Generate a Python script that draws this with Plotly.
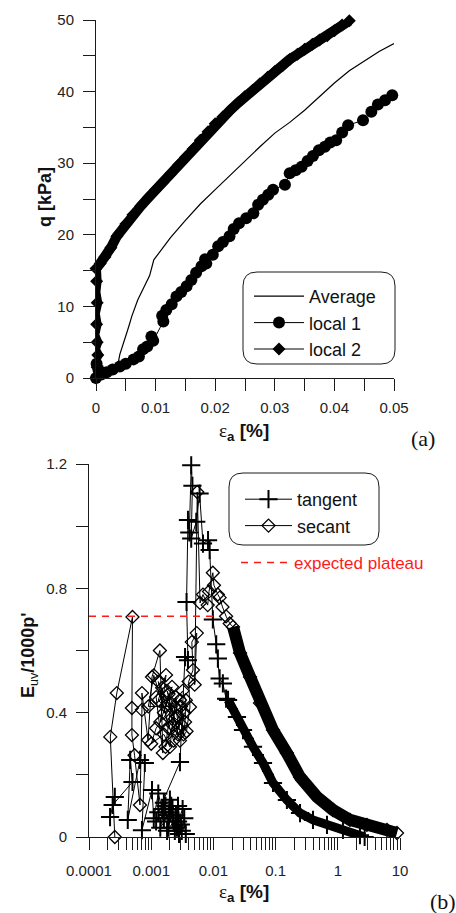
import plotly.graph_objects as go

W, H = 456, 913

# ---------------- panel (a) data ----------------
avg_x = [0.0033, 0.0037, 0.004, 0.0045, 0.005, 0.0055, 0.006, 0.007, 0.008, 0.009, 0.0097,
         0.011, 0.0125, 0.015, 0.0175, 0.02, 0.0225, 0.025, 0.0275, 0.03, 0.0325, 0.035,
         0.0375, 0.04, 0.0425, 0.045, 0.0475, 0.05]
avg_q = [1.0, 2.0, 3.3, 4.5, 5.8, 7.2, 8.6, 10.9, 12.6, 14.3, 16.5,
         17.9, 19.6, 22.0, 24.3, 26.3, 28.3, 30.4, 32.3, 34.2, 35.7, 37.4,
         39.3, 41.2, 42.9, 44.2, 45.6, 46.7]

loc1_x = [0.0, -0.0003, 0.0004, 0.0001, 0.0009, 0.0018, 0.0028, 0.004, 0.005, 0.0063, 0.0072,
          0.0079, 0.0086, 0.0093, 0.0096, 0.0113, 0.0111, 0.0118, 0.0127, 0.0135, 0.0143,
          0.0152, 0.016, 0.0168, 0.0177, 0.0185, 0.0183, 0.0196, 0.0205, 0.0213, 0.0224,
          0.0231, 0.024, 0.0252, 0.0264, 0.0272, 0.028, 0.0289, 0.0297, 0.0317, 0.0325,
          0.0335, 0.0345, 0.0355, 0.0364, 0.0374, 0.0384, 0.0393, 0.0403, 0.0413, 0.0423,
          0.0448, 0.0462, 0.0473, 0.0485, 0.0497]
loc1_q = [0.0, 0.6, 1.2, 2.0, 0.5, 0.8, 1.2, 1.6, 2.0, 2.6, 3.0,
          4.0, 4.4, 5.8, 5.2, 7.9, 8.7, 9.5, 10.3, 11.4, 12.0,
          12.8, 13.7, 14.7, 15.6, 16.0, 16.6, 17.2, 18.4, 19.0, 19.8,
          20.8, 21.6, 22.3, 23.0, 24.2, 24.9, 25.6, 26.3, 27.0, 28.6,
          29.0, 29.5, 30.3, 31.0, 31.8, 32.3, 32.9, 33.2, 34.3, 35.3,
          36.0, 37.2, 38.2, 38.8, 39.5]

loc2_x = [0.0, -0.0003, 0.0002, -0.0004, 0.0003, -0.0002, 0.0002, -0.0003, 0.0001, -0.0002,
          0.0002, -0.0001, 0.0001, 0.0, 0.0007, 0.0015, 0.0025, 0.0035, 0.005, 0.0062,
          0.0075, 0.0088, 0.01, 0.0112, 0.0125, 0.0138, 0.015, 0.0163, 0.0175, 0.0188,
          0.02, 0.0213, 0.0225, 0.0238, 0.025, 0.0263, 0.0275, 0.0288, 0.03, 0.0313,
          0.0325, 0.0338, 0.035, 0.0363, 0.0375, 0.0388, 0.04, 0.0413, 0.0425]
loc2_q = [0.0, 0.8, 1.5, 2.3, 3.2, 4.0, 5.0, 6.0, 7.5, 9.0,
          10.5, 12.0, 13.5, 15.3, 16.0, 16.9, 18.2, 19.8, 21.5, 22.8,
          24.0, 25.2, 26.3, 27.3, 28.5, 29.7, 30.8, 32.0, 33.2, 34.4,
          35.5, 36.5, 37.4, 38.4, 39.3, 40.2, 41.1, 42.0, 42.8, 43.6,
          44.5, 45.2, 45.9, 46.6, 47.2, 47.8, 48.5, 49.3, 49.9]

# ---------------- panel (b) data ----------------
tan_x_early = [0.000218, 0.00026, 0.00024, 0.0005, 0.00046, 0.00042, 0.00066, 0.00079, 0.00071,
               0.00103, 0.0011, 0.0013, 0.0015, 0.0012, 0.0017, 0.0014, 0.0019, 0.0016, 0.0021,
               0.0018, 0.0023, 0.002, 0.0026, 0.0022, 0.0028, 0.0025, 0.003, 0.0027, 0.0032,
               0.0016, 0.0019, 0.0022, 0.0024, 0.0027, 0.0031, 0.0034, 0.0036, 0.002, 0.0013,
               0.0029, 0.0035, 0.0039, 0.0037, 0.0039, 0.0041, 0.0044, 0.0046, 0.0044, 0.0053,
               0.006, 0.0068, 0.0082, 0.0087, 0.0098, 0.0111, 0.0118, 0.0126, 0.0142, 0.016]
tan_e_early = [0.064, 0.129, 0.103, 0.177, 0.248, 0.055, 0.248, 0.238, 0.022,
               0.151, 0.06, 0.14, 0.09, 0.05, 0.1, 0.03, 0.07, 0.06, 0.1,
               0.02, 0.05, 0.08, 0.03, 0.06, 0.01, 0.07, 0.04, 0.05, 0.09,
               0.11, 0.03, 0.09, 0.02, 0.10, 0.02, 0.06, 0.01, 0.12, 0.08,
               0.241, 0.579, 0.569, 0.756, 1.02, 0.98, 1.196, 1.13, 0.96, 1.014,
               1.105, 0.944, 0.955, 0.923, 0.70, 0.62, 0.574, 0.51, 0.494, 0.445]
tan_x_tail = [0.0172, 0.0239, 0.0299, 0.0433, 0.0627, 0.0908, 0.152, 0.247, 0.399, 0.67,
              1.21, 2.27, 2.7]
tan_e_tail = [0.441, 0.386, 0.344, 0.29, 0.238, 0.174, 0.119, 0.077, 0.055, 0.039,
              0.023, 0.006, 0.0]

sec_x_early = [0.00026, 0.00022, 0.00028, 0.0005, 0.00049, 0.00049, 0.00054, 0.00066, 0.00071,
               0.00071, 0.00089, 0.00103, 0.00138, 0.00154, 0.0012, 0.00173, 0.0014, 0.00216,
               0.0016, 0.0029, 0.0019, 0.0013, 0.0024, 0.0017, 0.0021, 0.0027, 0.0018, 0.0031,
               0.0013, 0.0015, 0.0017, 0.0019, 0.0022, 0.0025, 0.0026, 0.0028, 0.003, 0.0033,
               0.0035, 0.0036, 0.0032, 0.0012, 0.001, 0.0016, 0.002, 0.0024, 0.0009, 0.0011,
               0.0023, 0.0034, 0.0029, 0.0037, 0.0042, 0.004, 0.0047, 0.0045, 0.0054, 0.005,
               0.0055, 0.0061, 0.0068, 0.0081, 0.0085, 0.0098, 0.0102, 0.0118, 0.0126, 0.014,
               0.016, 0.0183]
sec_e_early = [0.0, 0.322, 0.463, 0.708, 0.415, 0.328, 0.263, 0.103, 0.409,
               0.463, 0.312, 0.515, 0.60, 0.27, 0.45, 0.521, 0.37, 0.483,
               0.40, 0.441, 0.35, 0.50, 0.38, 0.29, 0.43, 0.33, 0.47, 0.36,
               0.44, 0.48, 0.42, 0.46, 0.36, 0.45, 0.39, 0.35, 0.42, 0.33,
               0.37, 0.44, 0.47, 0.35, 0.30, 0.33, 0.29, 0.42, 0.42, 0.52,
               0.31, 0.40, 0.31, 0.34, 0.418, 0.50, 0.537, 0.627, 0.656, 0.49,
               1.11, 0.753, 0.78, 0.746, 0.79, 0.85, 0.81, 0.78, 0.77, 0.74,
               0.71, 0.687]
sec_x_tail = [0.0207, 0.0268, 0.0388, 0.0561, 0.0908, 0.152, 0.247, 0.463, 0.837, 1.57,
              2.94, 6.18, 8.95]
sec_e_tail = [0.676, 0.592, 0.515, 0.431, 0.344, 0.27, 0.193, 0.129, 0.087, 0.055,
              0.039, 0.023, 0.013]

plateau_x = [0.0001, 0.01]
plateau_e = [0.71, 0.71]

top_xticks = [0, 0.01, 0.02, 0.03, 0.04, 0.05]
top_xtick_labels = ["0", "0.01", "0.02", "0.03", "0.04", "0.05"]
top_yticks = [0, 10, 20, 30, 40, 50]
bot_xticks = [0.0001, 0.001, 0.01, 0.1, 1, 10]
bot_xtick_labels = ["0.0001", "0.001", "0.01", "0.1", "1", "10"]
bot_yticks = [0, 0.4, 0.8, 1.2]
bot_ytick_labels = ["0", "0.4", "0.8", "1.2"]


def fx(p):
    return p / W


def fy(p):
    return 1 - p / H


INK = "#1a1a1a"
FONT = "Liberation Sans"

fig = go.Figure()

# panel (a)
fig.add_trace(go.Scatter(x=loc2_x, y=loc2_q, mode="lines", line=dict(color="black", width=10),
                         showlegend=False, hoverinfo="skip", xaxis="x", yaxis="y"))
fig.add_trace(go.Scatter(x=avg_x, y=avg_q, mode="lines", name="Average",
                         line=dict(color="black", width=1.2), xaxis="x", yaxis="y",
                         legend="legend"))
fig.add_trace(go.Scatter(x=loc1_x, y=loc1_q, mode="lines+markers", name="local 1",
                         line=dict(color="black", width=1),
                         marker=dict(symbol="circle", size=12, color="black"),
                         cliponaxis=False, xaxis="x", yaxis="y", legend="legend"))
fig.add_trace(go.Scatter(x=loc2_x, y=loc2_q, mode="lines+markers", name="local 2",
                         line=dict(color="black", width=1),
                         marker=dict(symbol="diamond", size=10, color="black"),
                         cliponaxis=False, xaxis="x", yaxis="y", legend="legend"))

# panel (b)
fig.add_trace(go.Scatter(x=tan_x_tail, y=tan_e_tail, mode="lines", line=dict(color="black", width=9),
                         showlegend=False, hoverinfo="skip", xaxis="x2", yaxis="y2"))
fig.add_trace(go.Scatter(x=sec_x_tail, y=sec_e_tail, mode="lines", line=dict(color="black", width=12),
                         showlegend=False, hoverinfo="skip", xaxis="x2", yaxis="y2"))
fig.add_trace(go.Scatter(x=tan_x_early + tan_x_tail, y=tan_e_early + tan_e_tail,
                         mode="lines+markers", name="tangent",
                         line=dict(color="black", width=1),
                         marker=dict(symbol="cross-thin", size=13, color="black",
                                     line=dict(color="black", width=2)),
                         cliponaxis=False, xaxis="x2", yaxis="y2", legend="legend2"))
fig.add_trace(go.Scatter(x=sec_x_early + sec_x_tail, y=sec_e_early + sec_e_tail,
                         mode="lines+markers", name="secant",
                         line=dict(color="black", width=1),
                         marker=dict(symbol="diamond-open", size=10, color="black",
                                     line=dict(color="black", width=1.3)),
                         cliponaxis=False, xaxis="x2", yaxis="y2", legend="legend2"))
fig.add_trace(go.Scatter(x=plateau_x, y=plateau_e, mode="lines", name="expected plateau",
                         line=dict(color="#ff1a1a", width=1.5, dash="7px,6px"),
                         xaxis="x2", yaxis="y2", legend="legend3"))

tickfont = dict(family=FONT, size=15, color="#222")
axis_common = dict(showline=True, linecolor=INK, linewidth=1, ticks="outside", ticklen=12,
                   tickwidth=1, tickcolor=INK, showgrid=False, zeroline=False,
                   tickfont=tickfont, automargin=False, mirror=False)

rounded = lambda x0, y0, x1, y1, r: (
    f"M {fx(x0 + r)},{fy(y0)} L {fx(x1 - r)},{fy(y0)} Q {fx(x1)},{fy(y0)} {fx(x1)},{fy(y0 + r)} "
    f"L {fx(x1)},{fy(y1 - r)} Q {fx(x1)},{fy(y1)} {fx(x1 - r)},{fy(y1)} "
    f"L {fx(x0 + r)},{fy(y1)} Q {fx(x0)},{fy(y1)} {fx(x0)},{fy(y1 - r)} "
    f"L {fx(x0)},{fy(y0 + r)} Q {fx(x0)},{fy(y0)} {fx(x0 + r)},{fy(y0)} Z")

legend_font = dict(family=FONT, size=18, color="#111")

fig.update_layout(
    width=W, height=H, autosize=False,
    margin=dict(l=0, r=0, t=0, b=0, pad=0),
    paper_bgcolor="white", plot_bgcolor="white",
    xaxis=dict(domain=[fx(96), fx(394)], range=[0, 0.05], tickmode="array",
               tickvals=top_xticks, ticktext=top_xtick_labels, anchor="y",
               minor=dict(tickmode="linear", tick0=0, dtick=0.005, ticks="outside", ticklen=12,
                          tickcolor=INK, tickwidth=1),
               ticklabelstandoff=4, **axis_common),
    yaxis=dict(domain=[fy(378), fy(20)], range=[0, 50], tickmode="array",
               tickvals=top_yticks, anchor="x",
               minor=dict(tickmode="linear", tick0=0, dtick=5, ticks="outside", ticklen=12,
                          tickcolor=INK, tickwidth=1),
               ticklabelstandoff=6, **axis_common),
    xaxis2=dict(domain=[fx(89), fx(400)], type="log", range=[-4, 1], tickmode="array",
                tickvals=bot_xticks, ticktext=bot_xtick_labels, anchor="y2",
                minor=dict(dtick="D1", ticks="outside", ticklen=12, tickcolor=INK, tickwidth=1),
                ticklabelstandoff=8, **axis_common),
    yaxis2=dict(domain=[fy(837), fy(464)], range=[0, 1.2], tickmode="array",
                tickvals=bot_yticks, ticktext=bot_ytick_labels, anchor="x2",
                minor=dict(tickmode="linear", tick0=0, dtick=0.2, ticks="outside", ticklen=12,
                           tickcolor=INK, tickwidth=1),
                ticklabelstandoff=6, **axis_common),
    legend=dict(x=fx(249), y=fy(278), xanchor="left", yanchor="top", bgcolor="rgba(0,0,0,0)",
                borderwidth=0, font=legend_font, itemwidth=50, tracegroupgap=0),
    legend2=dict(x=fx(240), y=fy(481), xanchor="left", yanchor="top", bgcolor="rgba(0,0,0,0)",
                 borderwidth=0, font=legend_font, itemwidth=47),
    legend3=dict(x=fx(236), y=fy(545), xanchor="left", yanchor="top", bgcolor="rgba(0,0,0,0)",
                 borderwidth=0, font=dict(family=FONT, size=17, color="#ff1a1a"), itemwidth=48),
    shapes=[
        dict(type="path", xref="paper", yref="paper", path=rounded(243, 272, 395, 364, 14),
             line=dict(color=INK, width=1), fillcolor="rgba(0,0,0,0)", layer="above"),
        dict(type="path", xref="paper", yref="paper", path=rounded(229, 473, 379, 545, 14),
             line=dict(color=INK, width=1), fillcolor="rgba(0,0,0,0)", layer="above"),
    ],
    annotations=[
        dict(text="<b>q [kPa]</b>", x=fx(45), y=fy(197), xref="paper", yref="paper",
             showarrow=False, textangle=-90, font=dict(family=FONT, size=18, color="#111"),
             xanchor="center", yanchor="middle"),
        dict(text="<span style=\"font-family:'Liberation Serif'\">ε</span><b><sub>a</sub> [%]</b>",
             x=fx(244), y=fy(432), xref="paper", yref="paper", showarrow=False,
             font=dict(family=FONT, size=19, color="#111"), xanchor="center", yanchor="middle"),
        dict(text="(a)", x=fx(423), y=fy(439), xref="paper", yref="paper", showarrow=False,
             font=dict(family="Liberation Serif", size=22, color="#111"),
             xanchor="center", yanchor="middle"),
        dict(text="<b>E</b><sub>uv</sub><b>/1000p'</b>", x=fx(29), y=fy(655), xref="paper",
             yref="paper", showarrow=False, textangle=-90,
             font=dict(family=FONT, size=18, color="#111"), xanchor="center", yanchor="middle"),
        dict(text="<span style=\"font-family:'Liberation Serif'\">ε</span><b><sub>a</sub> [%]</b>",
             x=fx(244), y=fy(893), xref="paper", yref="paper", showarrow=False,
             font=dict(family=FONT, size=19, color="#111"), xanchor="center", yanchor="middle"),
        dict(text="(b)", x=fx(428), y=fy(901), xref="paper", yref="paper", showarrow=False,
             font=dict(family="Liberation Serif", size=22, color="#111"),
             xanchor="left", yanchor="middle"),
    ],
)

fig.write_html("out.html", config={"displayModeBar": False},
               post_script="document.body.style.margin='0';document.body.style.overflow='hidden';")
